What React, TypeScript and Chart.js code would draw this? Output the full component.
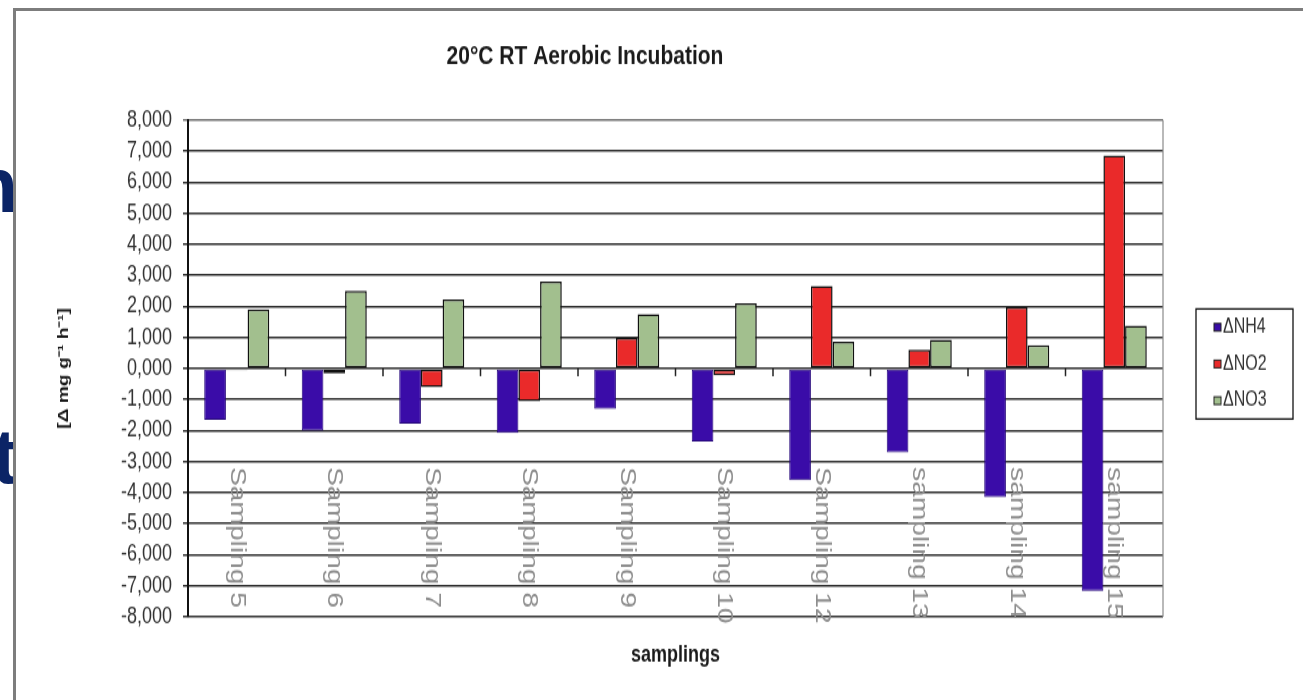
import React, { useEffect, useRef } from "react";
import { Chart, registerables } from "chart.js";

Chart.register(...registerables);

// ---- data ----
const categories = [
  "Sampling 5",
  "Sampling 6",
  "Sampling 7",
  "Sampling 8",
  "Sampling 9",
  "Sampling 10",
  "Sampling 12",
  "sampling 13",
  "sampling 14",
  "sampling 15",
];
const seriesNames = ["\u0394NH4", "\u0394NO2", "\u0394NO3"];
const nh4Values = [-1.65, -2.0, -1.78, -2.08, -1.3, -2.35, -3.6, -2.7, -4.15, -7.17];
const no2Values = [-0.06, -0.16, -0.6, -1.05, 0.98, -0.22, 2.65, 0.6, 1.97, 6.86];
const no3Values = [1.9, 2.5, 2.22, 2.8, 1.75, 2.1, 0.86, 0.92, 0.75, 1.38];
const yMin = -8;
const yMax = 8;
const yStep = 1;

const titleText = "20\u00B0C RT Aerobic Incubation";
const yTitleText = "[\u0394 mg g\u207B\u00B9 h\u207B\u00B9]";
const xTitleText = "samplings";

const FONT = '"Liberation Sans", Arial, Helvetica, sans-serif';
const STRETCH = 700 / 547;

const decorPlugin = {
  id: "decor",
  afterDatasetsDraw(chart: any) {
    const { ctx, scales } = chart;
    const x = scales.x;
    const y = scales.y;
    const zeroY = y.getPixelForValue(0);
    const labels: string[] = chart.data.labels;
    ctx.save();
    // small category-boundary ticks on the zero line
    ctx.strokeStyle = "#222";
    ctx.lineWidth = 1.5;
    for (let i = 1; i < labels.length; i++) {
      const px = (x.getPixelForValue(i - 1) + x.getPixelForValue(i)) / 2;
      ctx.beginPath();
      ctx.moveTo(px, zeroY);
      ctx.lineTo(px, zeroY + 6);
      ctx.stroke();
    }
    // rotated category labels (reading top to bottom)
    ctx.font = `22px ${FONT}`;
    ctx.fillStyle = "#8e8e8e";
    ctx.textAlign = "left";
    ctx.textBaseline = "middle";
    labels.forEach((lab, i) => {
      const px = x.getPixelForValue(i);
      ctx.save();
      ctx.translate(px, zeroY + 77);
      ctx.rotate(Math.PI / 2);
      ctx.fillText(lab, 0, 0);
      ctx.restore();
    });
    ctx.restore();
  },
  afterDraw(chart: any) {
    const { ctx, chartArea } = chart;
    ctx.save();
    // right border of plot area
    ctx.strokeStyle = "#8a8a8a";
    ctx.lineWidth = 1.2;
    ctx.beginPath();
    ctx.moveTo(chartArea.right, chartArea.top);
    ctx.lineTo(chartArea.right, chartArea.bottom);
    ctx.stroke();

    // legend with a frame
    const datasets = chart.data.datasets;
    const boxW = 97;
    const boxH = 86;
    const boxL = chartArea.right + 33;
    const boxT = (chartArea.top + chartArea.bottom) / 2 - 3.5 - boxH / 2;
    ctx.strokeStyle = "#111";
    ctx.lineWidth = 1.3;
    ctx.strokeRect(boxL, boxT, boxW, boxH);
    ctx.font = `16px ${FONT}`;
    ctx.textAlign = "left";
    ctx.textBaseline = "middle";
    datasets.forEach((d: any, i: number) => {
      const iy = boxT + (boxH * (2 * i + 1)) / 6;
      ctx.fillStyle = d.backgroundColor;
      ctx.fillRect(boxL + 18, iy - 3, 7, 6);
      ctx.strokeStyle = "#222";
      ctx.lineWidth = 1;
      ctx.strokeRect(boxL + 18, iy - 3, 7, 6);
      ctx.fillStyle = "#333";
      ctx.fillText(d.label, boxL + 27, iy);
    });
    ctx.restore();
  },
};

export default function App() {
  const canvasRef = useRef<HTMLCanvasElement | null>(null);

  useEffect(() => {
    if (!canvasRef.current) return;
    Chart.defaults.font.family = FONT;
    const chart = new Chart(canvasRef.current, {
      type: "bar",
      data: {
        labels: categories,
        datasets: [
          {
            label: seriesNames[0],
            data: nh4Values,
            backgroundColor: "#3a0ca8",
            borderColor: "#26087a",
            borderWidth: 1,
            borderSkipped: false,
            categoryPercentage: 0.667,
            barPercentage: 1.0,
          },
          {
            label: seriesNames[1],
            data: no2Values,
            backgroundColor: "#ea2a2a",
            borderColor: "#111",
            borderWidth: 1.5,
            borderSkipped: false,
            categoryPercentage: 0.667,
            barPercentage: 1.0,
          },
          {
            label: seriesNames[2],
            data: no3Values,
            backgroundColor: "#a2bf8e",
            borderColor: "#111",
            borderWidth: 1.5,
            borderSkipped: false,
            categoryPercentage: 0.667,
            barPercentage: 1.0,
          },
        ],
      },
      options: {
        responsive: false,
        maintainAspectRatio: false,
        animation: false,
        devicePixelRatio: 1,
        layout: { padding: { left: 7, right: 140, top: 0, bottom: 0 } },
        plugins: {
          legend: { display: false },
          tooltip: { enabled: false },
          title: {
            display: true,
            text: titleText,
            color: "#1a1a1a",
            font: { family: FONT, size: 21, weight: "bold" },
            padding: { top: 31.2, bottom: 37.4 },
          },
        },
        scales: {
          x: {
            type: "category",
            grid: { display: false, drawTicks: false },
            border: { display: false },
            ticks: { display: false },
            title: {
              display: true,
              text: xTitleText,
              color: "#1a1a1a",
              font: { family: FONT, size: 18, weight: "bold" },
              padding: { top: 0, bottom: 24.4 },
            },
            afterFit: (s: any) => {
              s.height = 65;
            },
          },
          y: {
            min: yMin,
            max: yMax,
            ticks: {
              stepSize: yStep,
              autoSkip: false,
              color: "#333",
              padding: 11,
              font: { family: FONT, size: 18 },
              callback: (v: any) => Number(v).toFixed(3).replace(".", ","),
            },
            grid: {
              color: (c: any) => (c.tick && c.tick.value === yMax ? "#707070" : "#303030"),
              lineWidth: 1.5,
              tickLength: 5,
              drawTicks: true,
            },
            border: { display: true, color: "#111", width: 2 },
            title: {
              display: true,
              text: yTitleText,
              color: "#1a1a1a",
              font: { family: FONT, size: 15, weight: "bold" },
              padding: { top: 48, bottom: 0 },
            },
            afterFit: (s: any) => {
              s.width = 181;
            },
          },
        },
      },
      plugins: [decorPlugin],
    });
    return () => chart.destroy();
  }, []);

  const letterStyle: React.CSSProperties = {
    position: "absolute",
    left: -60,
    width: 78,
    textAlign: "right",
    fontFamily: FONT,
    fontWeight: "bold",
    fontSize: 78,
    lineHeight: "78px",
    color: "#0b2466",
  };

  return (
    <div style={{ position: "fixed", left: 0, top: 0, width: 1303, height: 700, background: "#fff", overflow: "hidden" }}>
      <div style={{ ...letterStyle, top: 146 }}>n</div>
      <div style={{ ...letterStyle, top: 417 }}>t</div>
      <div
        style={{
          position: "absolute",
          left: 13,
          top: 8,
          width: 2000,
          height: 2000,
          borderLeft: "3px solid #7d7d7d",
          borderTop: "3px solid #7d7d7d",
          background: "#fff",
        }}
      />
      <div
        style={{
          position: "absolute",
          left: 0,
          top: 0,
          width: 1303,
          height: 547,
          transform: `scaleY(${STRETCH})`,
          transformOrigin: "0 0",
        }}
      >
        <canvas ref={canvasRef} width={1303} height={547} style={{ display: "block", width: 1303, height: 547 }} />
      </div>
    </div>
  );
}
